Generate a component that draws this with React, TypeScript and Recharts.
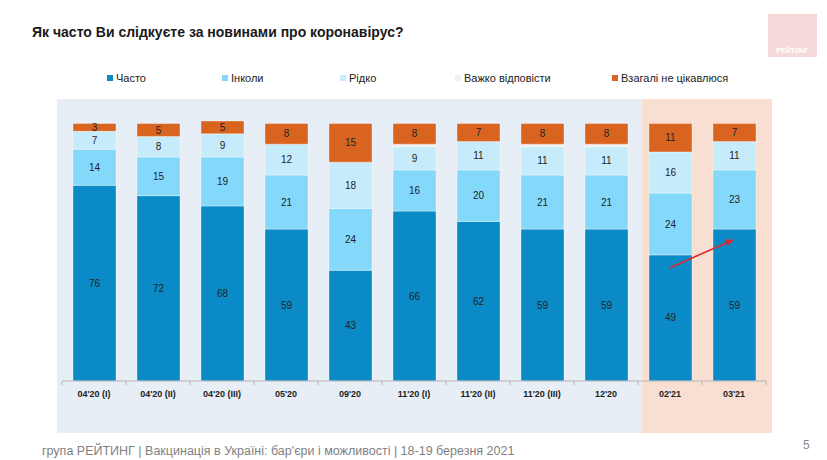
import * as React from "react"
import { BarChart, Bar, XAxis, YAxis, LabelList, ReferenceLine } from "recharts"

const categories = [
  "04'20 (I)", "04'20 (II)", "04'20 (III)", "05'20", "09'20",
  "11'20 (I)", "11'20 (II)", "11'20 (III)", "12'20", "02'21", "03'21",
]
const often = [76, 72, 68, 59, 43, 66, 62, 59, 59, 49, 59]
const sometimes = [14, 15, 19, 21, 24, 16, 20, 21, 21, 24, 23]
const rarely = [7, 8, 9, 12, 18, 9, 11, 11, 11, 16, 11]
const hardToSay = [0, 0, 0, 0, 0, 1, 0, 1, 1, 0, 0]
const notInterested = [3, 5, 5, 8, 15, 8, 7, 8, 8, 11, 7]

const seriesNames = ["Часто", "Інколи", "Рідко", "Важко відповісти", "Взагалі не цікавлюся"]
const seriesColors = ["#0a8bc8", "#84d9fb", "#c6ecfc", "#f1f1f1", "#d9641f"]
const legendLeft = [107, 222, 340, 455, 612]

const arrowFrom = { x: "02'21", y: 44 }
const arrowTo = { x: "03'21", y: 55 }

const data = categories.map((c, i) => ({
  name: c,
  often: often[i],
  sometimes: sometimes[i],
  rarely: rarely[i],
  hard: hardToSay[i],
  none: notInterested[i],
}))

const keys = ["often", "sometimes", "rarely", "hard", "none"]

const font = "'Liberation Sans', Arial, sans-serif"

const AxisTick = (props: any) => {
  const { x, y, payload, index } = props
  const off = payload.offset || 0
  return (
    <g>
      <line x1={x - off} x2={x - off} y1={y} y2={y + 4} stroke="#b5b5b5" />
      {index === categories.length - 1 && (
        <line x1={x + off} x2={x + off} y1={y} y2={y + 4} stroke="#b5b5b5" />
      )}
      <text x={x} y={y + 16} textAnchor="middle" fontSize={9} fontWeight="bold" fill="#222" fontFamily={font}>
        {payload.value}
      </text>
    </g>
  )
}

const Arrow = (props: any) => {
  const { x1, y1, x2, y2 } = props
  const a = Math.atan2(y2 - y1, x2 - x1)
  const len = 8
  const w = 3.5
  const bx = x2 - len * Math.cos(a)
  const by = y2 - len * Math.sin(a)
  const pts = `${x2},${y2} ${bx + w * Math.sin(a)},${by - w * Math.cos(a)} ${bx - w * Math.sin(a)},${by + w * Math.cos(a)}`
  return (
    <g>
      <line x1={x1} y1={y1} x2={bx} y2={by} stroke="#e3262a" strokeWidth={1.6} />
      <polygon points={pts} fill="#e3262a" />
    </g>
  )
}

const hideZero = (v: any) => (v ? v : "")

export default function App() {
  return (
    <div style={{ position: "absolute", left: 0, top: 0, width: 827, height: 460, background: "#fff", fontFamily: font }}>
      {/* background panels */}
      <div style={{ position: "absolute", left: 57, top: 99, width: 585, height: 334, background: "#e8eef6" }} />
      <div style={{ position: "absolute", left: 642, top: 99, width: 130, height: 334, background: "#f8dfd2" }} />

      <div style={{ position: "absolute", left: 32, top: 24, fontSize: 14, fontWeight: "bold", color: "#1a1a1a" }}>
        Як часто Ви слідкуєте за новинами про коронавірус?
      </div>

      <div style={{ position: "absolute", left: 768, top: 14, width: 49, height: 43, background: "#f6dada" }}>
        <div style={{ position: "absolute", bottom: 3, width: "100%", textAlign: "center", fontSize: 7, fontWeight: "bold", color: "#fff" }}>
          РЕЙТИНГ
        </div>
      </div>

      {seriesNames.map((n, i) => (
        <div key={n} style={{ position: "absolute", left: legendLeft[i], top: 72, fontSize: 11, color: "#222", whiteSpace: "nowrap", display: "flex", alignItems: "center" }}>
          <span style={{ display: "inline-block", width: 6, height: 6, background: seriesColors[i], marginRight: 3 }} />
          {n}
        </div>
      ))}

      <div style={{ position: "absolute", left: 0, top: 0 }}>
        <BarChart width={827} height={460} data={data} margin={{ top: 121, right: 61, left: 62, bottom: 49 }} barSize={43}>
          <XAxis
            dataKey="name"
            height={30}
            stroke="#b5b5b5"
            tickLine={false}
            tickSize={0}
            tickMargin={0}
            tick={<AxisTick />}
            interval={0}
          />
          <YAxis hide domain={[0, 100]} />
          {keys.map((k, i) => (
            <Bar key={k} dataKey={k} name={seriesNames[i]} stackId="a" fill={seriesColors[i]} stroke="#ffffff" strokeOpacity={0.45} strokeWidth={0.8} isAnimationActive={false}>
              {k !== "hard" && (
                <LabelList dataKey={k} position="center" fontSize={10} fill="#222" fontFamily={font} formatter={hideZero} />
              )}
            </Bar>
          ))}
          <ReferenceLine segment={[arrowFrom, arrowTo]} ifOverflow="visible" shape={<Arrow />} />
        </BarChart>
      </div>

      <div style={{ position: "absolute", left: 42, top: 444, fontSize: 12.5, color: "#7f7f7f", whiteSpace: "nowrap" }}>
        група РЕЙТИНГ | Вакцинація в Україні: бар'єри і можливості | 18-19 березня 2021
      </div>
      <div style={{ position: "absolute", left: 803, top: 438, fontSize: 12, color: "#8a8a8a" }}>5</div>
    </div>
  )
}
